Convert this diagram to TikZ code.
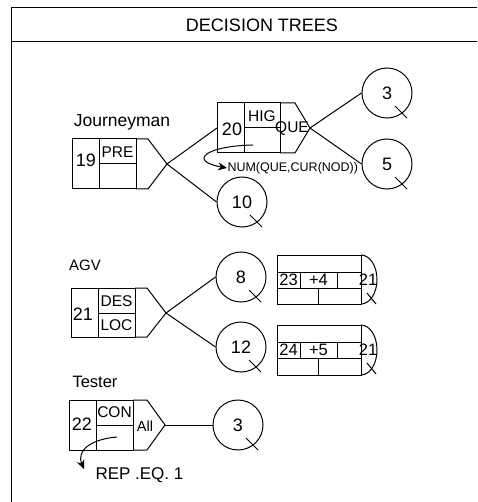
\documentclass[tikz,border=0pt]{standalone}
\usepackage{fontspec}
\setmainfont{Liberation Sans}
\usetikzlibrary{arrows.meta}
\newcommand\fsz[1]{\fontsize{#1}{#1}\selectfont}
\begin{document}
\begin{tikzpicture}[x=1pt,y=-1pt, line width=1pt,
  lbl/.style={inner sep=0pt, font=\fsz{15.5}},
  dig/.style={inner sep=0pt, font=\fsz{18}},
  rdig/.style={inner sep=0pt, font=\fsz{16.5}},
  circ/.style={draw, circle, minimum size=50pt, inner sep=0pt, font=\fsz{18}},
  box/.style={draw, rectangle, inner sep=0pt, outer sep=0pt, anchor=north west},
  flow/.style={-{Stealth[length=9pt,width=8pt]}},
]
\useasboundingbox (0,0) rectangle (477,502);
% frame
\draw (477,8) -- (11,8) -- (11,502);
\draw (11,42) -- (477,42);
\node[inner sep=0pt, font=\fsz{18}] (title) at (262,25) {DECISION TREES};

% ---------- Journeyman ----------
\node[anchor=base, inner sep=0pt, font=\fsz{17.5}] (jlab) at (122,127) {Journeyman};
\node[box, minimum width=64pt, minimum height=50pt] (n19) at (72,139) {};
\draw (99,139) -- (99,189);
\draw (99,164) -- (136,164);
\draw (n19.north east) -- (148,139) -- (167,164) coordinate (t19) -- (148,189) -- (n19.south east);
\node[dig] (d19) at (86,160) {19};
\node[lbl] (pre) at (117.5,152) {PRE};

\node[box, minimum width=63pt, minimum height=50pt] (n20) at (217,103) {};
\draw (244,103) -- (244,153);
\draw (244,128) -- (280,128);
\draw (n20.north east) -- (295,103) -- (310,128) coordinate (t20) -- (295,153) -- (n20.south east);
\node[dig] (d20) at (232,129) {20};
\node[lbl] (hig) at (262,116) {HIG};
\node[lbl] (que) at (292,129) {QUE};
\node[anchor=west, inner sep=0pt, font=\fsz{12.5}] (num) at (227,168) {NUM(QUE,CUR(NOD))};
\coordinate (a20) at (253,145);
\draw[flow] (a20) .. controls (205,146) and (188,161) .. (num.west);

\node[circ] (c3a) at (387,93) {3};
\node[circ] (c5) at (387,164) {5};
\node[circ] (c10) at (242,202) {10};
\draw (t19) -- (n20.west);
\draw (t19) -- (c10.west);
\draw (t20) -- (c3a.west);
\draw (t20) -- (c5.west);

% ---------- AGV ----------
\node[anchor=base, inner sep=0pt, font=\fsz{15}] (agv) at (85,270) {AGV};
\node[box, minimum width=64pt, minimum height=49pt] (n21) at (71,288) {};
\draw (98,288) -- (98,337);
\draw (98,313) -- (135,313);
\draw (n21.north east) -- (147,288) -- (166,313) coordinate (t21) -- (147,337) -- (n21.south east);
\node[dig] (d21) at (83,314) {21};
\node[lbl] (des) at (116.5,301) {DES};
\node[lbl] (loc) at (116.5,325.5) {LOC};

\node[circ] (c8) at (241,277) {8};
\node[circ] (c12) at (241,347) {12};
\draw (t21) -- (c8.west);
\draw (t21) -- (c12.west);

% records
\node[box, minimum width=84pt, minimum height=49pt] (r23) at (277,255) {};
\draw (277,272) -- (361,272);
\draw (277,288) -- (361,288);
\draw (300,272) -- (300,288);
\draw (337,272) -- (337,288);
\draw (318,288) -- (318,304);
\draw (r23.north east) .. controls (369.8,255) and (377,266) .. (377,279.5)
      .. controls (377,293) and (369.8,304) .. (r23.south east);
\node[rdig] (r23a) at (288.5,280) {23};
\node[rdig] (r23b) at (318.5,280) {+4};
\node[rdig] (r23c) at (368,280) {21};
\draw (367,293) -- (376,304);

\node[box, minimum width=84pt, minimum height=50pt] (r24) at (277,325) {};
\draw (277,342) -- (361,342);
\draw (277,358) -- (361,358);
\draw (300,342) -- (300,358);
\draw (337,342) -- (337,358);
\draw (318,358) -- (318,375);
\draw (r24.north east) .. controls (369.8,325) and (377,336) .. (377,350)
      .. controls (377,364) and (369.8,375) .. (r24.south east);
\node[rdig] (r24a) at (288.5,350) {24};
\node[rdig] (r24b) at (318.5,350) {+5};
\node[rdig] (r24c) at (368,350) {21};
\draw (367,363) -- (376,374);

% ---------- Tester ----------
\node[anchor=base, inner sep=0pt, font=\fsz{16.5}] (tester) at (95,387) {Tester};
\node[box, minimum width=64pt, minimum height=50pt] (n22) at (69,400) {};
\draw (96,400) -- (96,450);
\draw (96,425) -- (133,425);
\draw (n22.north east) -- (147,400) -- (165,425) coordinate (t22) -- (147,450) -- (n22.south east);
\node[dig] (d22) at (82,424) {22};
\node[lbl] (con) at (114.5,412.5) {CON};
\node[inner sep=0pt, font=\fsz{14.5}] (all) at (145,426) {All};
\node[circ] (c3b) at (238,425) {3};
\draw (t22) -- (c3b.west);
\node[anchor=west, inner sep=0pt, font=\fsz{17}] (rep) at (95,475) {REP .EQ. 1};
\coordinate (a22) at (117,437);
\coordinate (e22) at (84,469);
\draw[flow] (a22) .. controls (92,439) and (76,450) .. (e22);

% circle ticks
\foreach \c in {c3a,c5,c10,c8,c12,c3b}
  \draw ([shift={(8,13)}]\c.center) -- ([shift={(20,25)}]\c.center);
\end{tikzpicture}
\end{document}
